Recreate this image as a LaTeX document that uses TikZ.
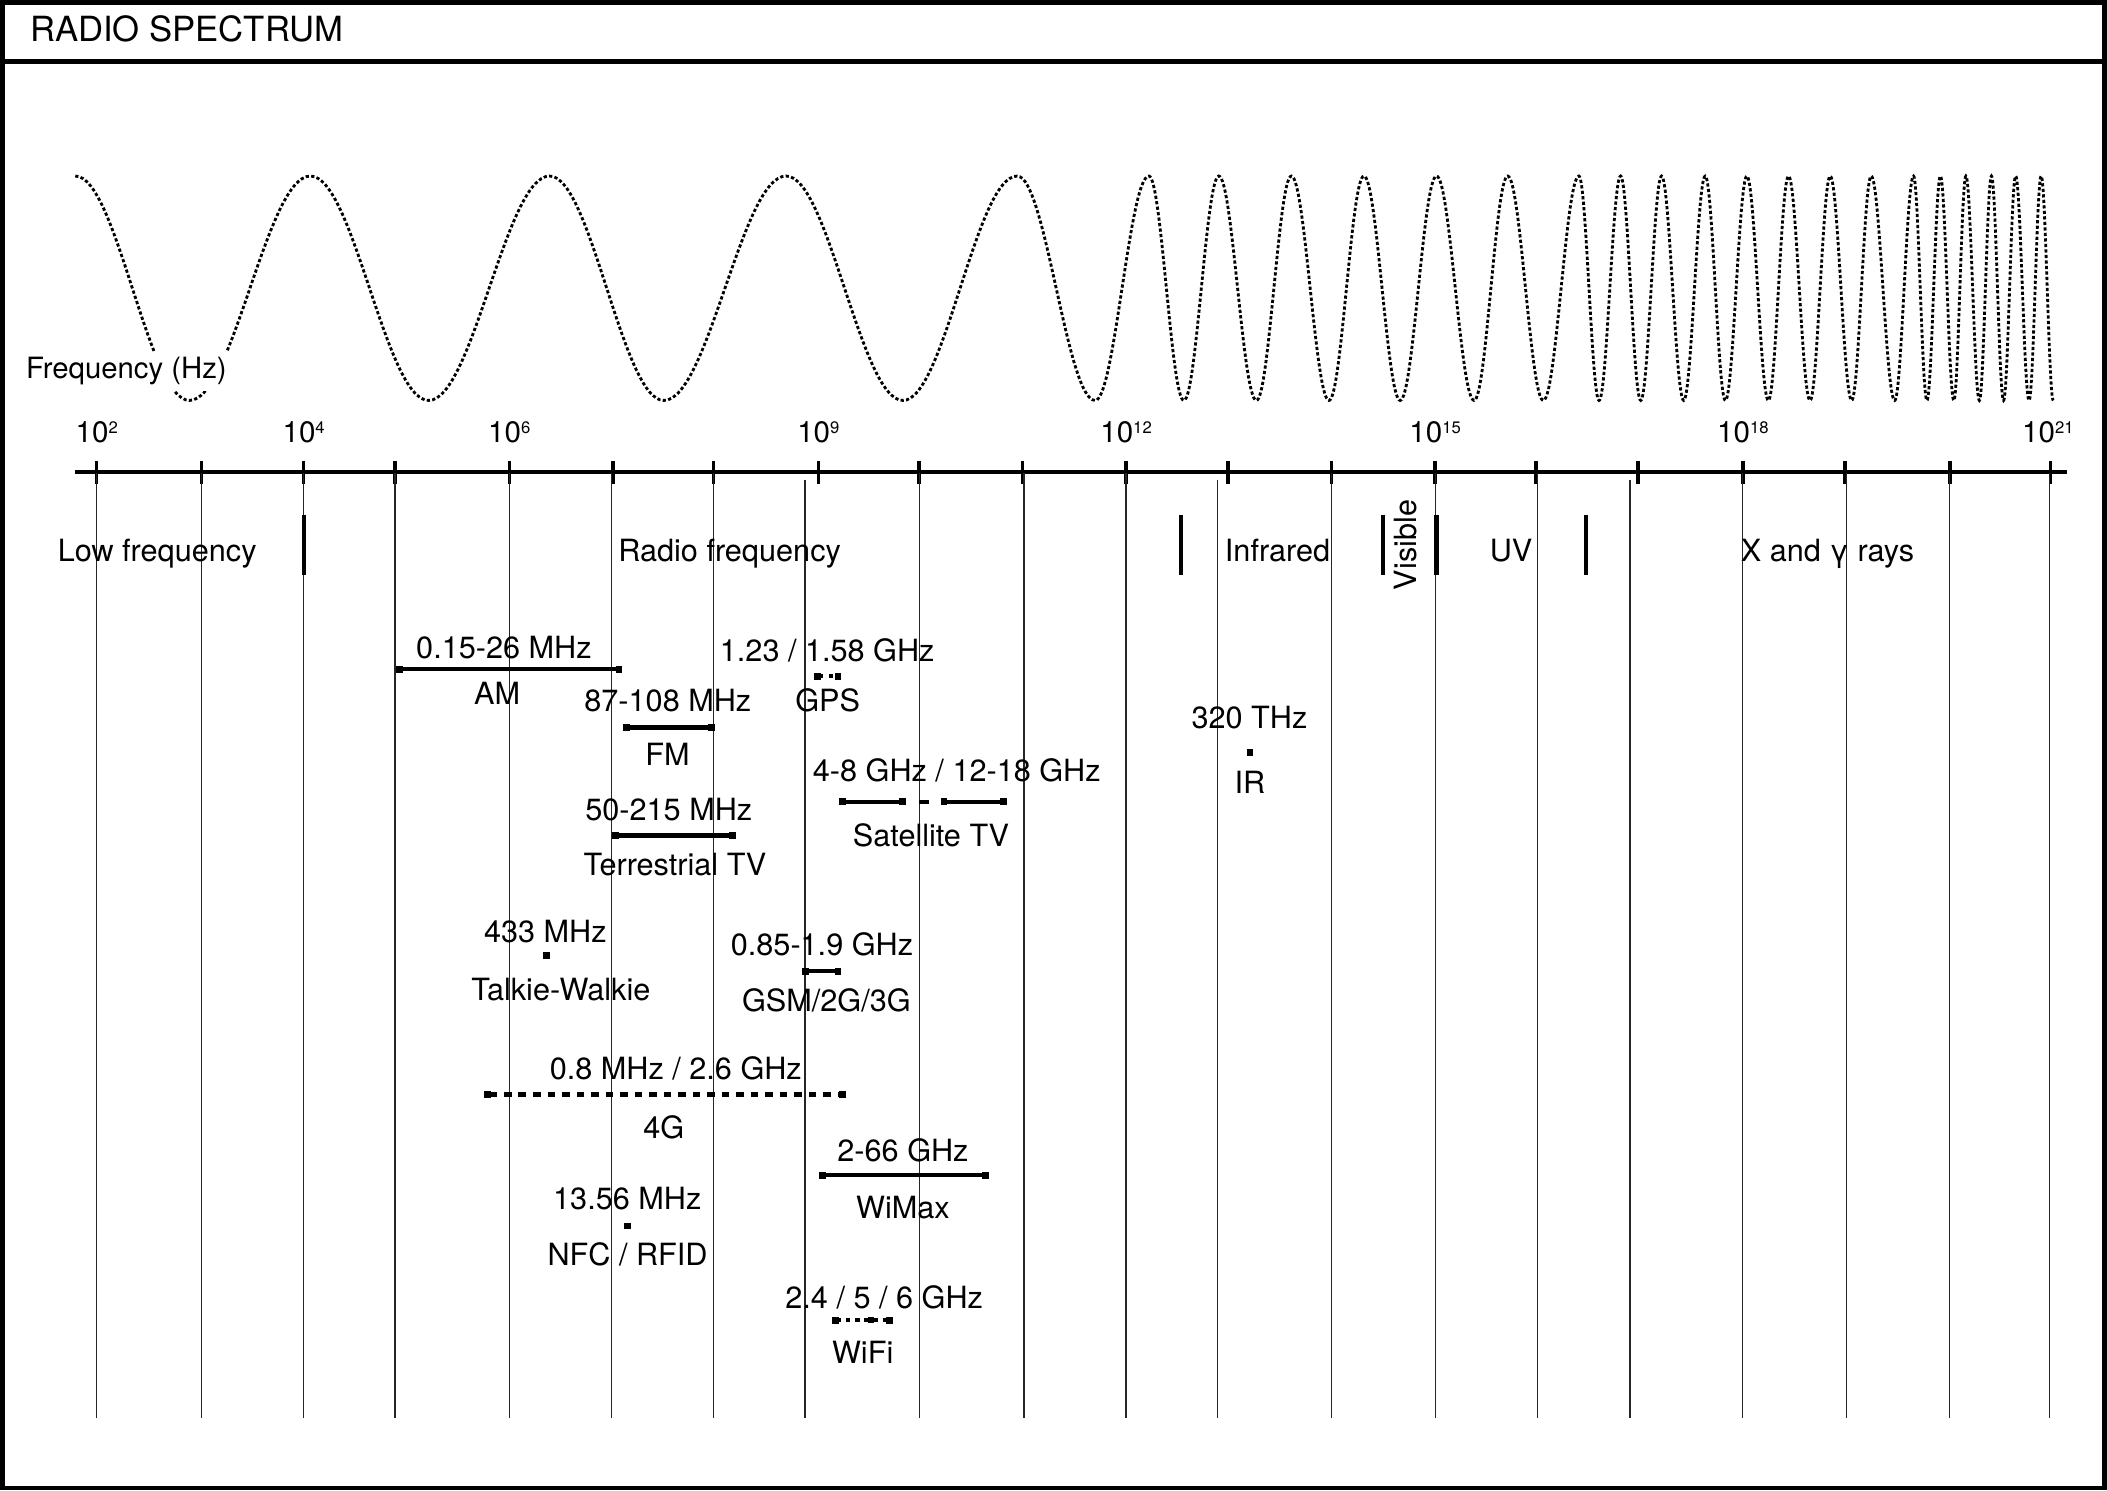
\documentclass[tikz,border=0pt]{standalone}
\usepackage{fontspec}
\setmainfont{TeX Gyre Heros}
\usetikzlibrary{arrows.meta}

\newcommand{\tenpow}[1]{10\raisebox{3.6pt}{\fontsize{6.2}{6.2}\selectfont #1}}

\begin{document}
\begin{tikzpicture}[x=0.5pt,y=-0.5pt,
    lbl/.style={font=\fontsize{11.4}{13}\selectfont,inner sep=0pt,anchor=base},
    pow/.style={font=\fontsize{11}{13}\selectfont,inner sep=0pt,anchor=base},
    gridline/.style={line width=0.45pt,black!85},
    tickmark/.style={line width=1.3pt},
    regionbar/.style={line width=1.5pt},
    band/.style={line width=1.6pt,{Square[length=2.5pt,width=2.6pt]}-{Square[length=2.5pt,width=2.6pt]}},
    dashband/.style={band,dash pattern=on 2.8pt off 2.6pt},
    spot/.style={rectangle,fill,inner sep=0pt,minimum size=2.5pt},
    wave/.style={line width=1.05pt,dash pattern=on 1.2pt off 0.85pt}]
    \useasboundingbox (0,0) rectangle (1568,1109);

    % frame and title
    \draw[line width=1.75pt] (1.75,1.75) rectangle (1566.25,1107.25);
    \draw[line width=1.75pt] (0,46) -- (1568,46);
    \node[anchor=base west,inner sep=0pt,font=\fontsize{12.9}{15}\selectfont] (title) at (22,31) {RADIO SPECTRUM};

    % wave
    \draw[wave] (56,131) foreach \xb [count=\i, remember=\xb as \xa (initially 56)] in
        {141,231,319,409,494,585,672,757,815,855,881,907,935,961,989,1015,1042,1069,1097,1122,1148.5,1175,1190,1206,1221,1236.5,1253,1269,1284,1300,1316,1331,1347,1362,1378,1392.5,1410,1424,1434,1444,1454,1463,1473,1482,1491,1500,1510,1519,1528}
        {cos ({(\xa+\xb)/2},214.5) sin (\xb,{131+167*mod(\i,2)})};
    \node[anchor=base west,fill=white,inner xsep=1.5pt,inner ysep=2pt,font=\fontsize{10.9}{12}\selectfont] (freqhz) at (16,282) {Frequency (Hz)};

    % axis
    \coordinate (axL) at (56,351.5);
    \coordinate (axR) at (1538,351.5);
    \draw[line width=1.6pt] (axL) -- (axR);
    \foreach \x in {72,150,226,294,379,456,531,609,684,761,838,914,991,1068,1143,1219,1297,1373,1451,1526}
        \draw[tickmark] (\x,343) -- (\x,360);
    \foreach \x in {72,150,226,294,379,455,531,684,762,838,991,1068,1144,1297,1374,1451,1525}
        \draw[gridline] (\x,352) -- (\x,1055);
    \foreach \x in {599,906,1213}
        \draw[gridline] (\x,357) -- (\x,1055);

    \node[pow] (p2) at (72,329.5) {\tenpow{2}};
    \node[pow] (p4) at (226,329.5) {\tenpow{4}};
    \node[pow] (p6) at (379,329.5) {\tenpow{6}};
    \node[pow] (p9) at (609,329.5) {\tenpow{9}};
    \node[pow] (p12) at (838,329.5) {\tenpow{12}};
    \node[pow] (p15) at (1068,329.5) {\tenpow{15}};
    \node[pow] (p18) at (1297,329.5) {\tenpow{18}};
    \node[pow] (p21) at (1524,329.5) {\tenpow{21}};

    % regions
    \foreach \x in {226,879,1029,1069,1180}
        \draw[regionbar] (\x,383) -- (\x,428);
    \node[lbl] (lowf) at (117,418) {Low frequency};
    \node[lbl] (radiof) at (543,418) {Radio frequency};
    \node[lbl] (infra) at (950.7,418) {Infrared};
    \node[lbl,rotate=90] (visible) at (1054,405.6) {Visible};
    \node[lbl] (uv) at (1124.5,418) {UV};
    \node[lbl] (xgamma) at (1360,418) {X and γ rays};

    % bands
    \coordinate (am-l) at (294.8,497.9);
    \coordinate (am-r) at (463.2,497.9);
    \draw[band] (am-l) -- (am-r);
    \node[lbl] (am-f) at (375,489.9) {0.15-26 MHz};
    \node[lbl] (am-n) at (370,524.6) {AM};

    \coordinate (gps-l) at (605.7,503.1);
    \coordinate (gps-r) at (626.2,503.1);
    \draw[band,dash pattern=on 1.5pt off 2.2pt] (gps-l) -- (gps-r);
    \node[lbl] (gps-f) at (615.6,492.4) {1.23 / 1.58 GHz};
    \node[lbl] (gps-n) at (616,529.6) {GPS};

    \coordinate (fm-l) at (463.9,541.3);
    \coordinate (fm-r) at (532.2,541.3);
    \draw[band] (fm-l) -- (fm-r);
    \node[lbl] (fm-f) at (497,529.6) {87-108 MHz};
    \node[lbl] (fm-n) at (496.7,569.3) {FM};

    \coordinate (sat-a) at (624.5,596.6);
    \coordinate (sat-b) at (674,596.6);
    \coordinate (sat-c) at (700,596.6);
    \coordinate (sat-d) at (749.2,596.6);
    \draw[band] (sat-a) -- (sat-b);
    \draw[line width=1.6pt,dash pattern=on 3.5pt off 9.5pt,dash phase=8pt] (sat-b) -- (sat-c);
    \draw[band] (sat-c) -- (sat-d);
    \node[lbl] (sat-f) at (712,581.7) {4-8 GHz / 12-18 GHz};
    \node[lbl] (sat-n) at (692.8,630.1) {Satellite TV};

    \coordinate (ttv-l) at (455.4,621.7);
    \coordinate (ttv-r) at (547.6,621.7);
    \draw[band] (ttv-l) -- (ttv-r);
    \node[lbl] (ttv-f) at (497.7,610.3) {50-215 MHz};
    \node[lbl] (ttv-n) at (502.3,651.2) {Terrestrial TV};

    \node[spot] (tw) at (406.5,711.2) {};
    \node[lbl] (tw-f) at (405.8,701.5) {433 MHz};
    \node[lbl] (tw-n) at (417.4,744.2) {Talkie-Walkie};

    \coordinate (gsm-l) at (597.2,722.6);
    \coordinate (gsm-r) at (626.2,722.6);
    \draw[band] (gsm-l) -- (gsm-r);
    \node[lbl] (gsm-f) at (611.7,710.7) {0.85-1.9 GHz};
    \node[lbl] (gsm-n) at (615,752.9) {GSM/2G/3G};

    \coordinate (lte-l) at (360.5,814.4);
    \coordinate (lte-r) at (629.7,814.4);
    \draw[dashband] (lte-l) -- (lte-r);
    \node[lbl] (lte-f) at (502.9,803.7) {0.8 MHz / 2.6 GHz};
    \node[lbl] (lte-n) at (494,847.2) {4G};

    \coordinate (wimax-l) at (609.7,874.5);
    \coordinate (wimax-r) at (735.9,874.5);
    \draw[band] (wimax-l) -- (wimax-r);
    \node[lbl] (wimax-f) at (672,864) {2-66 GHz};
    \node[lbl] (wimax-n) at (672,906.7) {WiMax};

    \node[spot] (nfc) at (466.8,912.4) {};
    \node[lbl] (nfc-f) at (466.8,900) {13.56 MHz};
    \node[lbl] (nfc-n) at (467,941.4) {NFC / RFID};

    \coordinate (wifi-l) at (619.1,982.4);
    \coordinate (wifi-r) at (664.7,982.4);
    \draw[band,dash pattern=on 1.6pt off 1.8pt] (wifi-l) -- (wifi-r);
    \node[spot] (wifi-m) at (648.2,982.4) {};
    \node[lbl] (wifi-f) at (658,973.7) {2.4 / 5 / 6 GHz};
    \node[lbl] (wifi-n) at (642,1014.6) {WiFi};

    \node[spot] (ir) at (930.2,560.1) {};
    \node[lbl] (ir-f) at (929.8,542.5) {320 THz};
    \node[lbl] (ir-n) at (930.2,590.3) {IR};
\end{tikzpicture}
\end{document}
